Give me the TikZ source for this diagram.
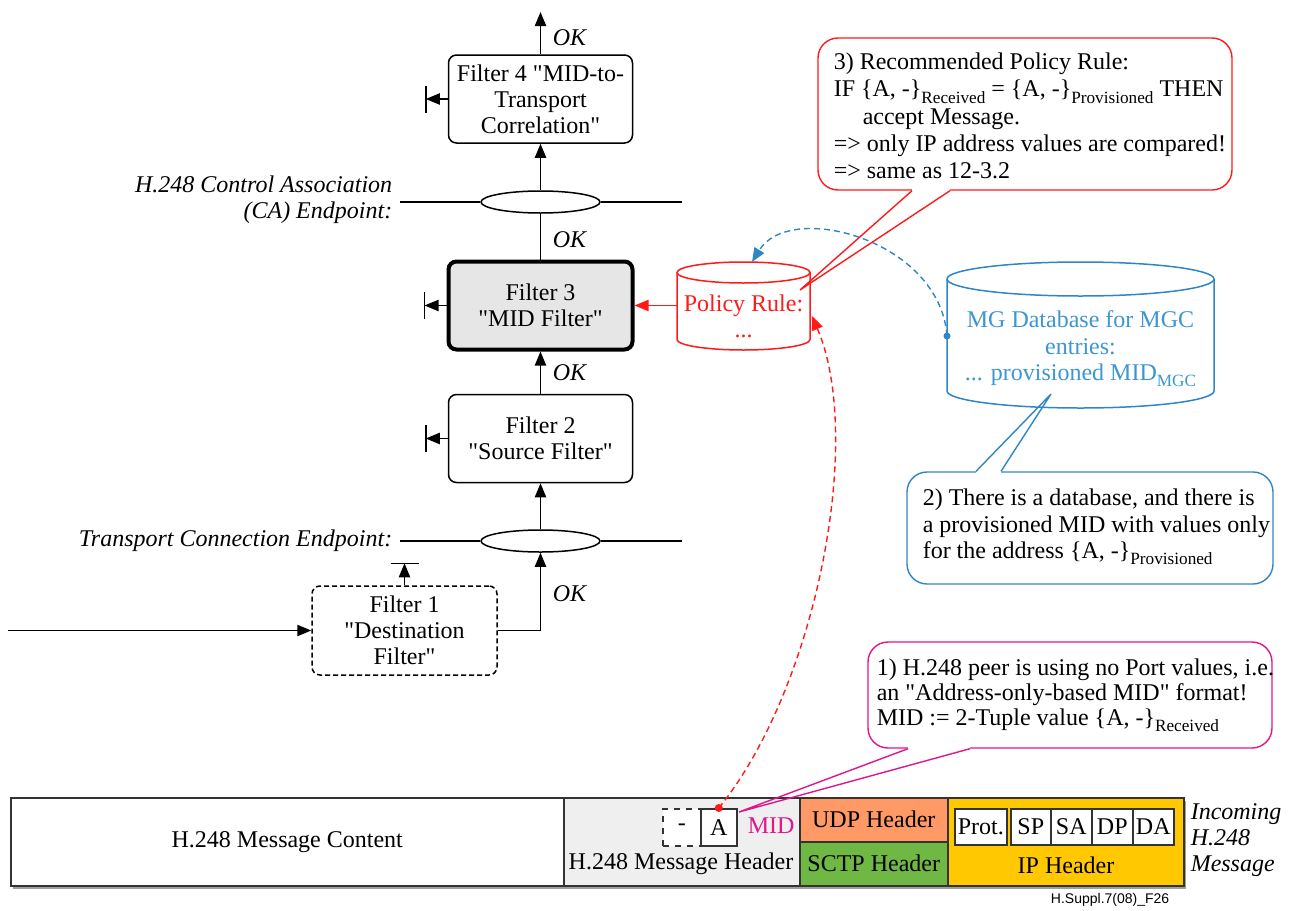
\documentclass[tikz,border=0pt]{standalone}
\usepackage{fontspec}
\setmainfont{Liberation Serif}[Ligatures=TeXOff]
\newfontfamily\credfont{Liberation Sans}
\usetikzlibrary{arrows.meta,shapes.geometric}

\definecolor{polred}{HTML}{FF1A1A}
\definecolor{dbblue}{HTML}{2F86C6}
\definecolor{dbtext}{HTML}{3C96D2}
\definecolor{mag}{HTML}{E0168C}
\definecolor{hdrgrey}{HTML}{EFEFEF}
\definecolor{udporange}{HTML}{FF9966}
\definecolor{sctpgreen}{HTML}{6EB843}
\definecolor{ipyellow}{HTML}{FFC800}
\definecolor{fthreegrey}{HTML}{E6E6E6}
\definecolor{barline}{HTML}{333333}

% lowered small text used for index labels such as "Received"
\newcommand\subtxt[1]{\raisebox{-0.55ex}{\fontsize{8.6}{9}\selectfont #1}}

\tikzset{
  filterbox/.style={draw, rounded corners=4pt, minimum width=92pt, minimum height=44pt,
                    align=center, inner sep=1pt, fill=white},
  endpt/.style={draw, ellipse, fill=white, minimum width=59.5pt, minimum height=11pt, inner sep=0pt},
  oklbl/.style={font=\fontsize{12}{13}\selectfont\itshape, anchor=west, inner sep=0pt},
  itlbl/.style={font=\fontsize{12}{13}\selectfont\itshape, inner sep=0pt},
  calloutbox/.style={draw, rounded corners=10pt, line width=0.7pt, inner sep=0pt},
  ctext/.style={align=left, anchor=west, inner sep=0pt},
  seg/.style={draw=barline, line width=0.75pt, inner sep=0pt, anchor=north west},
  cell/.style={draw=barline, fill=white, line width=0.75pt, inner sep=0pt, anchor=north west,
               minimum height=18pt},
  dashline/.style={dash pattern=on 3pt off 2pt, line width=0.7pt},
}

\begin{document}
\begin{tikzpicture}[x=0.5pt,y=-0.5pt, line width=0.75pt,
  >={Triangle[length=7pt,width=5.6pt]},
  font=\fontsize{12}{13}\selectfont]
\useasboundingbox (0,0) rectangle (1290,910);

% ---------------- filter chain ----------------
\node[filterbox] (f4) at (540.5,99) {Filter 4 "MID-to-\\Transport\\Correlation"};
\node[filterbox, fill=fthreegrey, line width=2pt] (f3) at (540.5,305.5) {Filter 3\\"MID Filter"};
\node[filterbox] (f2) at (540.5,438.5) {Filter 2\\"Source Filter"};
\node[filterbox, dash pattern=on 2.5pt off 1.5pt, minimum width=92.5pt, minimum height=44.5pt]
     (f1) at (404.5,630.5) {Filter 1\\"Destination\\Filter"};

% endpoint lines
\node[endpt] (ca) at (540.5,202) {};
\node[endpt] (tc) at (540.5,541) {};
\coordinate (caL) at (400,202);
\coordinate (caR) at (682,202);
\coordinate (tcL) at (400,541);
\coordinate (tcR) at (682,541);
\draw (caL) -- (ca.west) (ca.east) -- (caR);
\draw (tcL) -- (tc.west) (tc.east) -- (tcR);

\node[itlbl, anchor=east, align=right] (calbl) at (393,200)
     {H.248 Control Association\\(CA) Endpoint:};
\node[itlbl, anchor=east] (tclbl) at (393,541) {Transport Connection Endpoint:};

% flow
\coordinate (top) at (540.5,12);
\coordinate (in) at (8,630.5);
\draw[->] (f4.north) -- (top);
\draw[->] (ca.north) -- (f4.south);
\draw (f3.north) -- (ca.south);
\draw[->] (f2.north) -- (f3.south);
\draw[->] (tc.north) -- (f2.south);
\draw[->] (in) -- (f1.west);
\draw[->] (f1.east) -| (tc.south);

\node[oklbl] (ok4) at (552,38) {OK};
\node[oklbl] (ok3) at (552,240) {OK};
\node[oklbl] (ok2) at (552,373) {OK};
\node[oklbl] (ok1) at (552,594) {OK};

% discard exits
\foreach \f in {f4,f3,f2} {
  \coordinate (\f bar) at ([xshift=-11pt]\f.west);
  \draw[->] (\f.west) -- (\f bar);
  \draw ([yshift=6.75pt]\f bar) -- ([yshift=-6.75pt]\f bar);
}
\coordinate (f1bar) at ([yshift=11pt]f1.north);
\draw[->] (f1.north) -- (f1bar);
\draw ([xshift=-7pt]f1bar) -- ([xshift=7pt]f1bar);

% ---------------- policy rule store ----------------
\draw[polred] (677,272.5) -- (677,339.5)
   arc[start angle=180, end angle=0, x radius=66.5, y radius=10.5] -- (810,272.5);
\draw[polred] (743.5,272.5) ellipse[x radius=66.5, y radius=10.5];
\node[text=polred, align=center, inner sep=0pt] (pol) at (743.5,316) {Policy Rule:\\...};
\coordinate (polW) at (677,305.5);
\coordinate (polTop) at (752,262);
\coordinate (polE) at (812,316);
\draw[->, polred] (polW) -- (f3.east);

% ---------------- MG database ----------------
\draw[dbblue] (947,279) -- (947,391)
   arc[start angle=180, end angle=0, x radius=133.5, y radius=17] -- (1214,279);
\draw[dbblue] (1080.5,279) ellipse[x radius=133.5, y radius=17];
\node[text=dbtext, align=center, inner sep=0pt, font=\fontsize{12}{13.3}\selectfont]
     (mgdb) at (1080.5,349) {MG Database for MGC\\entries:\\... provisioned MID\subtxt{MGC}};
\coordinate (dbdot) at (947,336);
\draw[dbblue, dashline, ->] (dbdot) .. controls (940,240) and (790,200) .. (polTop);
\fill[dbblue] (dbdot) circle[radius=3.5];

% ---------------- incoming message ----------------
\fill[gray!75] (13,801) rectangle (1186,889);
\node[seg, fill=white, minimum width=276.5pt, minimum height=44pt] (content) at (10,797)
     {H.248 Message Content};
\node[seg, fill=hdrgrey, minimum width=118pt, minimum height=44pt] (hdr) at (563,797) {};
\node[inner sep=0pt] (hdrlbl) at (681,864) {H.248 Message Header};
\node[seg, fill=udporange, minimum width=74pt, minimum height=22pt] (udp) at (799,797) {UDP Header};
\node[seg, fill=sctpgreen, minimum width=74pt, minimum height=22pt] (sctp) at (799,841) {SCTP Header};
\node[seg, fill=ipyellow, minimum width=118pt, minimum height=44pt] (ip) at (947,797) {};
\node[inner sep=0pt] (iplbl) at (1066,865) {IP Header};

\node[cell, dashed, minimum width=19pt, minimum height=18.5pt] (dashcell) at (662,808) {-};
\node[cell, minimum width=18pt, minimum height=18.5pt] (acell) at (700,808) {A};
\node[text=mag, anchor=west, inner sep=0pt] (midl) at (747,826) {MID};

\node[cell, minimum width=26pt] (prot) at (954,808) {Prot.};
\node[cell, minimum width=20pt] (sp) at (1010,808) {SP};
\node[cell, minimum width=20.5pt] (sa) at (1050,808) {SA};
\node[cell, minimum width=20.5pt] (dp) at (1091,808) {DP};
\node[cell, minimum width=20.5pt] (da) at (1132,808) {DA};

\node[itlbl, anchor=west, align=left] (inc) at (1190,840) {Incoming\\H.248\\Message};
\node[anchor=east, inner sep=0pt, font=\credfont\fontsize{7}{8}\selectfont] (cred) at (1170,900)
     {H.Suppl.7(08)\_F26};

% received MID checked against the rule
\draw[polred, dashline, ->] (acell.north) .. controls (815,690) and (865,440) .. (polE);
\fill[polred] (acell.north) circle[radius=4];

% ---------------- callouts ----------------
% 3) recommended rule
\node[calloutbox, draw=polred, minimum width=207pt, minimum height=76pt] (c3) at (1025,114) {};
\node[ctext, font=\fontsize{12}{13.6}\selectfont] (c3t) at (833,116)
  {3) Recommended Policy Rule:\\
   IF \{A, -\}\subtxt{Received} = \{A, -\}\subtxt{Provisioned} THEN\\
   \hspace*{14.5pt}accept Message.\\
   => only IP address values are compared!\\
   => same as 12-3.2};
\coordinate (c3a) at ([xshift=-56.5pt]c3.south);
\coordinate (c3b) at ([xshift=-37.5pt]c3.south);
\coordinate (c3tip) at (800,290);
\draw[white, line width=1.6pt] (c3a) -- (c3b);
\draw[polred, line width=0.7pt] (c3a) -- (c3tip) -- (c3b);

% 2) provisioned database entry
\node[calloutbox, draw=dbblue, minimum width=183pt, minimum height=56pt] (c2) at (1090,528) {};
\node[ctext, font=\fontsize{12}{13.2}\selectfont] (c2t) at (922,527)
  {2) There is a database, and there is\\
   a provisioned MID with values only\\
   for the address \{A, -\}\subtxt{Provisioned}};
\coordinate (c2a) at ([xshift=-57pt]c2.north);
\coordinate (c2b) at ([xshift=-44.5pt]c2.north);
\coordinate (c2tip) at (1051,394);
\draw[white, line width=1.6pt] (c2a) -- (c2b);
\draw[dbblue, line width=0.7pt] (c2a) -- (c2tip) -- (c2b);

% 1) address-only MID
\node[calloutbox, draw=mag, minimum width=202pt, minimum height=53pt] (c1) at (1070,695) {};
\node[ctext, font=\fontsize{12}{12.6}\selectfont] (c1t) at (876,695)
  {1) H.248 peer is using no Port values, i.e.\\
   an "Address-only-based MID" format!\\
   MID := 2-Tuple value \{A, -\}\subtxt{Received}};
\coordinate (c1a) at ([xshift=-81pt]c1.south);
\coordinate (c1b) at ([xshift=-50pt]c1.south);
\coordinate (c1tip) at (739,812);
\draw[white, line width=1.6pt] (c1a) -- (c1b);
\draw[mag, line width=0.7pt] (c1a) -- (c1tip) -- (c1b);

\end{tikzpicture}
\end{document}
